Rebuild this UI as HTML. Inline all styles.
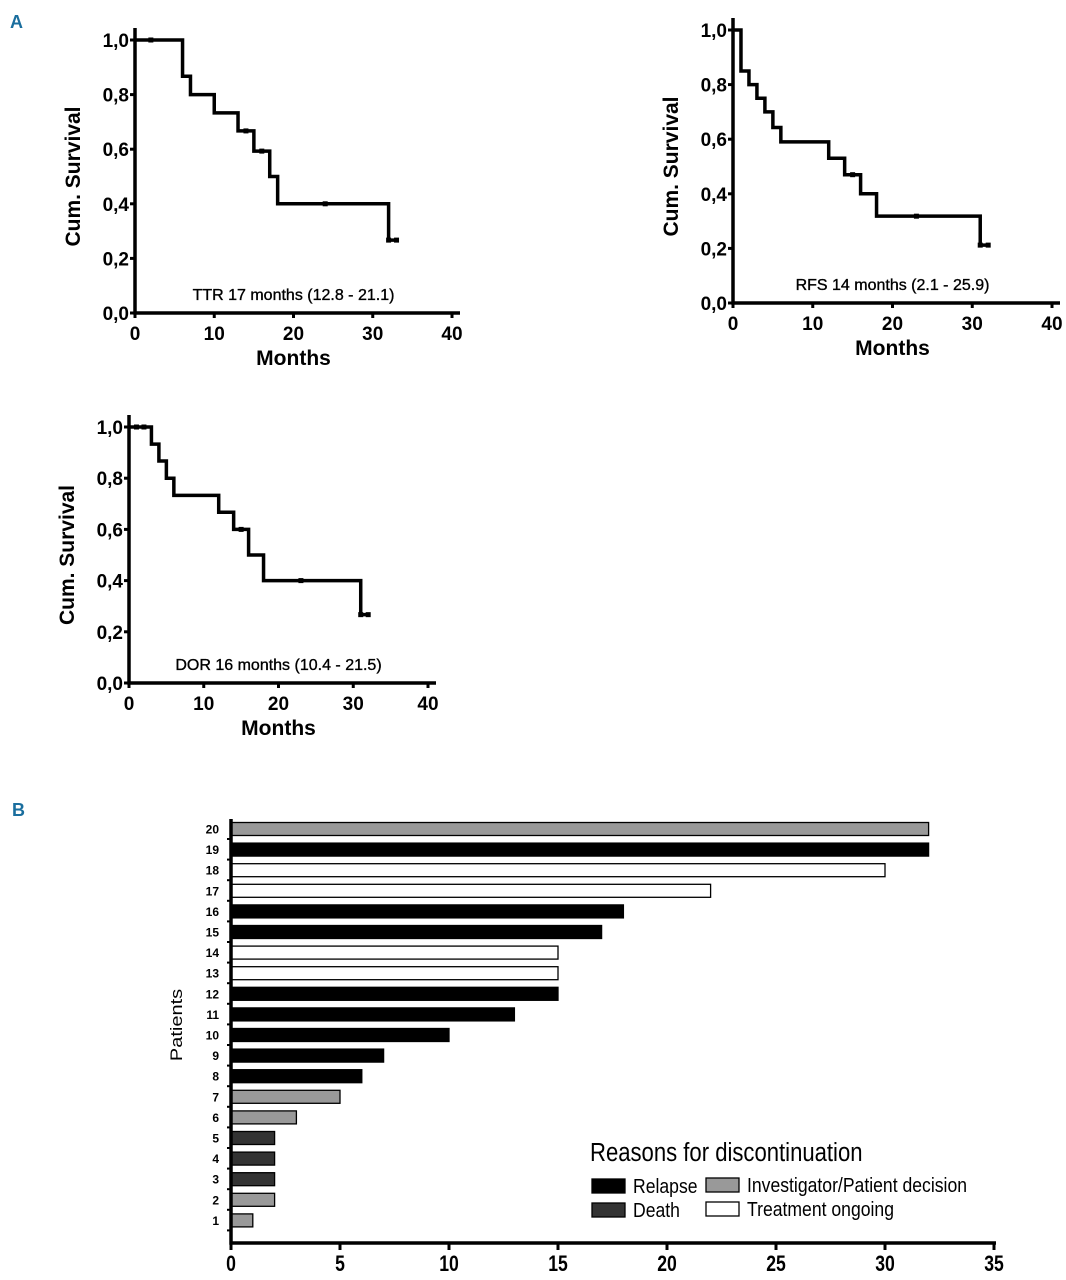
<!DOCTYPE html>
<html><head><meta charset="utf-8"><style>
body{margin:0;background:#fff;}
svg{display:block;font-family:"Liberation Sans",Arial,sans-serif;}
</style></head><body>
<svg id="s" width="1066" height="1280" viewBox="0 0 1066 1280">
<text x="10" y="28" fill="#1a6e9e" font-weight="bold" font-size="18">A</text>
<text x="12" y="816" fill="#1a6e9e" font-weight="bold" font-size="18">B</text>
</svg>
<script>
// KM data: times and survival values after each step
const ttrTimes=[0,6,7,10,13,15,17,18,32,33];
const ttrSurv=[1,0.867,0.8,0.733,0.667,0.593,0.5,0.4,0.267,0.267];
const ttrCensor=[2,14,16,24,32,33];
const rfsTimes=[0,1,2,3,4,5,6,12,14,16,18,31,32];
const rfsSurv=[1,0.85,0.8,0.75,0.7,0.643,0.59,0.53,0.47,0.4,0.318,0.212,0.212];
const rfsCensor=[15,23,31,32];
const dorTimes=[0,3,4,5,6,12,14,16,18,31,32];
const dorSurv=[1,0.933,0.867,0.8,0.733,0.667,0.6,0.5,0.4,0.267,0.267];
const dorCensor=[1,2,15,23,31,32];
const xTicks=[0,10,20,30,40];
const yTicks=[0,0.2,0.4,0.6,0.8,1.0];
const yTickLabels=["0,0","0,2","0,4","0,6","0,8","1,0"];
// Bar chart data
const patients=[1,2,3,4,5,6,7,8,9,10,11,12,13,14,15,16,17,18,19,20];
const months=[1,2,2,2,2,3,5,6,7,10,13,15,15,15,17,18,22,30,32,32];
const reasons=["inv","inv","death","death","death","inv","inv","rel","rel","rel","rel","rel","ong","ong","rel","rel","ong","ong","rel","inv"];
const barTicks=[0,5,10,15,20,25,30,35];

const NS="http://www.w3.org/2000/svg";
const svg=document.getElementById('s');
function mk(tag,attrs,parent,text){const e=document.createElementNS(NS,tag);for(const k in attrs)e.setAttribute(k,attrs[k]);if(text!==undefined)e.textContent=text;(parent||svg).appendChild(e);return e;}
function narrow(x,y,sx,attrs,parent,text){attrs.x=0;attrs.y=0;attrs.transform=`translate(${x},${y}) scale(${sx},1)`;return mk('text',attrs,parent,text);}

function km(id,g,times,surv,cens,label){
  const X=v=>g.x0+(g.x1-g.x0)*v/40, Y=v=>g.y0-(g.y0-g.y1)*v;
  const grp=mk('g',{});
  
  
  let ax=mk('path',{d:`M${g.x0},${Y(1)-12}V${g.y0}H${X(40)+8}`,stroke:'#000','stroke-width':3.5,fill:'none'},grp);
  
  
  yTicks.forEach((t,i)=>{
    mk('line',{x1:g.x0-5,x2:g.x0,y1:Y(t),y2:Y(t),stroke:'#000','stroke-width':3},grp);
    const tl=mk('text',{x:g.x0-6,y:Y(t)+7,'text-anchor':'end','font-size':19,'font-weight':'bold'},grp,yTickLabels[i]);
    
    
  });
  xTicks.forEach(t=>{
    mk('line',{x1:X(t),x2:X(t),y1:g.y0,y2:g.y0+5,stroke:'#000','stroke-width':3},grp);
    const tl=mk('text',{x:X(t),y:g.y0+27,'text-anchor':'middle','font-size':19,'font-weight':'bold'},grp,String(t));
    
    
  });
  let d=`M${X(times[0])},${Y(surv[0])}`;
  for(let i=1;i<times.length;i++){d+=`H${X(times[i])}V${Y(surv[i])}`;}
  const p=mk('path',{d:d,stroke:'#000','stroke-width':3.5,fill:'none'},grp);
  
  
  cens.forEach(c=>{
    let s=1;for(let i=0;i<times.length;i++){if(times[i]<=c)s=surv[i];}
    const m=mk('rect',{x:X(c)-2.5,y:Y(s)-2.5,width:5,height:5,fill:'#000'},grp);
    
    
  });
  const yt=mk('text',{transform:`translate(${g.x0-55},${(g.y0+Y(1))/2}) rotate(-90)`,'text-anchor':'middle','font-size':21,'font-weight':'bold'},grp,'Cum. Survival');
  
  
  const xt=mk('text',{x:X(20),y:g.y0+52,'text-anchor':'middle','font-size':21,'font-weight':'bold'},grp,'Months');
  
  
  const lb=mk('text',{x:X(20),y:g.y0-13,'text-anchor':'middle','font-size':16,stroke:'#000','stroke-width':0.35},grp,label);
  
  
}
km('ttr',{x0:135,x1:452,y0:313,y1:40},ttrTimes,ttrSurv,ttrCensor,'TTR 17 months (12.8 - 21.1)');
km('rfs',{x0:733,x1:1052,y0:303,y1:30},rfsTimes,rfsSurv,rfsCensor,'RFS 14 months (2.1 - 25.9)');
km('dor',{x0:129,x1:428,y0:683,y1:427},dorTimes,dorSurv,dorCensor,'DOR 16 months (10.4 - 21.5)');

// Bar chart
const bx0=231,bx1=994,by0=1243,rowTop=829,rowStep=20.6;
const BX=v=>bx0+(bx1-bx0)*v/35;
const fills={rel:'#000',death:'#333',inv:'#999',ong:'#fff'};
const bg=mk('g',{});


patients.forEach((p,i)=>{
  const cy=rowTop+(20-p)*rowStep;
  const r=mk('rect',{x:bx0,y:cy-6.5,width:BX(months[i])-bx0,height:13,fill:fills[reasons[i]],stroke:'#000','stroke-width':1.3},bg);
  
  
  const t=mk('text',{x:bx0-12,y:cy+4.5,'text-anchor':'end','font-size':12,'font-weight':'bold'},bg,String(p));
  
  
  mk('line',{x1:bx0-4,x2:bx0,y1:cy+10,y2:cy+10,stroke:'#000','stroke-width':2},bg);
});
const bax=mk('path',{d:`M${bx0},${rowTop-10}V${by0}H${bx1+2}`,stroke:'#000','stroke-width':3.5,fill:'none'},bg);


barTicks.forEach(t=>{
  mk('line',{x1:BX(t),x2:BX(t),y1:by0,y2:by0+7,stroke:'#000','stroke-width':3},bg);
  const tl=narrow(BX(t),by0+28,0.8,{'text-anchor':'middle','font-size':22,'font-weight':'bold'},bg,String(t));
  
  
});
const pt=mk('text',{transform:'translate(182,1025) rotate(-90) scale(1,0.85)','text-anchor':'middle','font-size':20},bg,'Patients');


const lt=narrow(590,1161,0.85,{'font-size':26},bg,'Reasons for discontinuation');


const legend=[[592,1186,'rel','Relapse'],[592,1210,'death','Death'],[706,1185,'inv','Investigator/Patient decision'],[706,1209,'ong','Treatment ongoing']];
legend.forEach(l=>{
  const r=mk('rect',{x:l[0],y:l[1]-7,width:33,height:14,fill:fills[l[2]],stroke:'#000','stroke-width':1.3},bg);
  
  
  const t=narrow(l[0]+41,l[1]+7,0.88,{'font-size':20},bg,l[3]);
  
  
});
</script>
</body></html>
